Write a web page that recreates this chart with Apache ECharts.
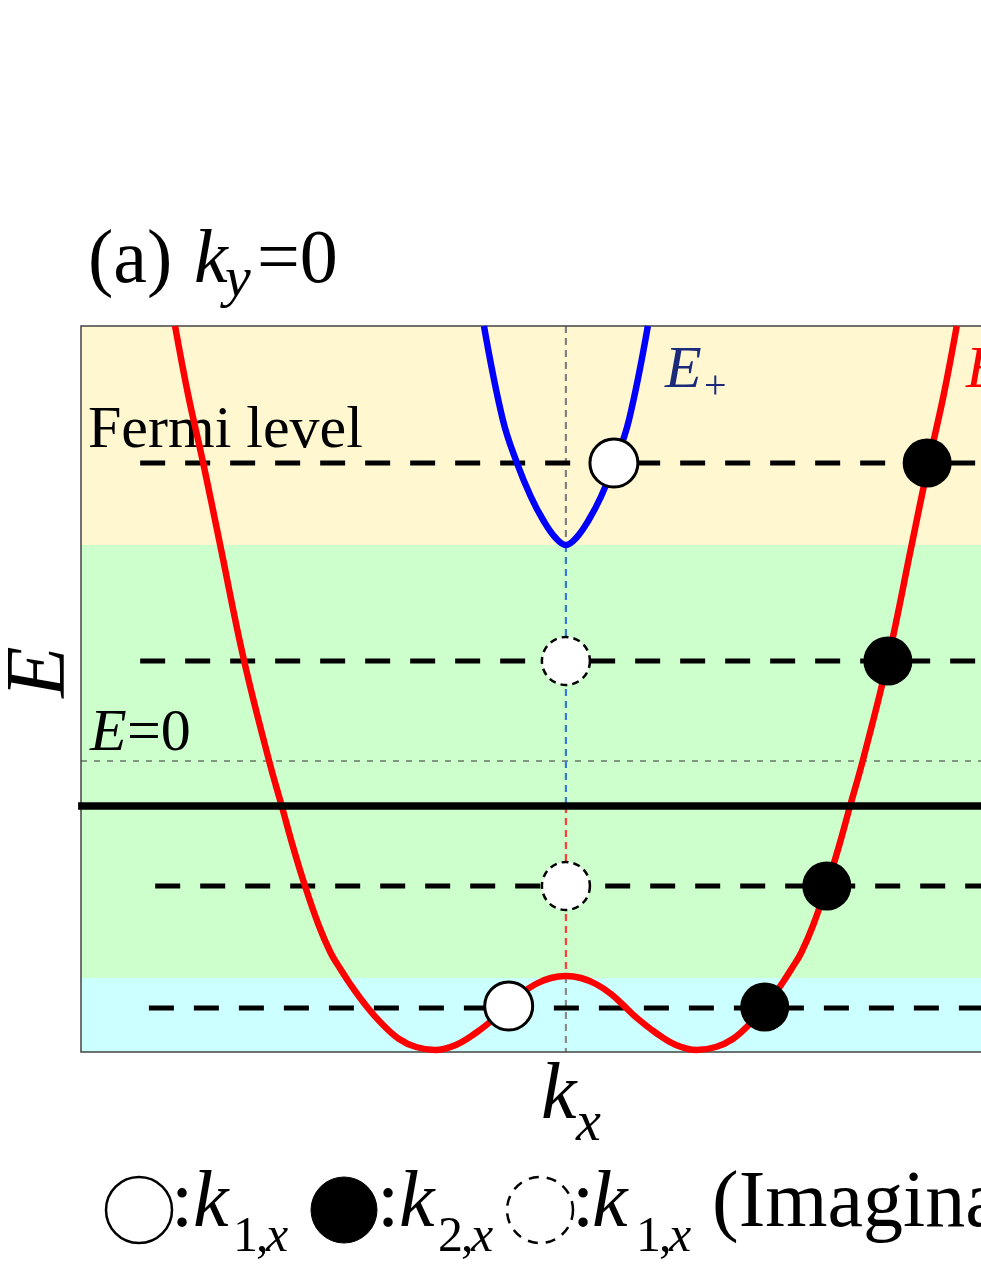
<!DOCTYPE html>
<html><head><meta charset="utf-8">
<script src="https://cdn.jsdelivr.net/npm/echarts@6/dist/echarts.min.js"></script>
<style>html,body{margin:0;padding:0;background:#fff;}#c{width:981px;height:1269px;}</style>
</head><body><div id="c"></div>
<script>
// ---- axis ranges (arbitrary units); the panel is cut at the right edge ----
const kMin = -1, kMax = 0.856;
const eMin = -2.91, eMax = 4.35;

// ---- E- (red) branch ----
const redK = [-0.806,-0.779,-0.748,-0.713,-0.664,-0.612,-0.586,-0.562,-0.538,-0.510,-0.485,-0.465,-0.445,-0.410,-0.381,-0.344,-0.309,-0.270,-0.227,-0.186,-0.144,-0.118,-0.093,-0.062,-0.031,0,
              0.031,0.062,0.093,0.118,0.144,0.186,0.227,0.270,0.309,0.344,0.381,0.410,0.445,0.465,0.485,0.510,0.538,0.562,0.586,0.612,0.664,0.713,0.748,0.779,0.806];
const redE = [4.35,3.66,2.98,2.16,1.01,0.00,-0.45,-0.87,-1.25,-1.64,-1.92,-2.08,-2.23,-2.46,-2.62,-2.78,-2.86,-2.89,-2.84,-2.72,-2.56,-2.44,-2.33,-2.23,-2.17,-2.15,
              -2.17,-2.23,-2.33,-2.44,-2.56,-2.72,-2.84,-2.89,-2.86,-2.78,-2.62,-2.46,-2.23,-2.08,-1.92,-1.64,-1.25,-0.87,-0.45,0.00,1.01,2.16,2.98,3.66,4.35];

// ---- E+ (blue) branch ----
const blueK = [-0.169,-0.130,-0.101,-0.072,-0.047,-0.021,0,0.021,0.047,0.072,0.101,0.130,0.169];
const blueE = [4.35,3.41,2.98,2.64,2.41,2.23,2.16,2.23,2.41,2.64,2.98,3.41,4.35];

// ---- intersection markers ----
const k1Real = [[0.099, 2.98], [-0.118, -2.45]];
const k2Real = [[0.745, 2.98], [0.664, 1.00], [0.538, -1.25], [0.410, -2.46]];
const k1Imag = [[0, 1.00], [0, -1.25]];

// ---- Fermi levels (dashed) ----
const fermiE = [2.98, 1.00, -1.25, -2.47];
const fermiStartK = [-0.878, -0.878, -0.847, -0.860];

// ---- background bands ----
const bandEdges = [4.35, 2.16, -2.17, -2.91];
const bandColors = ['#FFF7CF', '#CCFFCC', '#CCFFFF'];

// ---- reference lines ----
const eZero = 0;
const thickLineE = -0.45;
const centerSegE = [4.35, 2.16, -0.45, -2.15, -2.91];
const centerSegColors = ['#808080', '#3a78d8', '#ff3b3b', '#8a8a8a'];

const FONT = "'Liberation Serif','Times New Roman',serif";

const chart = echarts.init(document.getElementById('c'), null, {renderer: 'canvas'});

const series = [];
series.push({
  type: 'line', data: [], z: 0, silent: true,
  markArea: {
    silent: true,
    data: bandColors.map((c, i) => [
      {yAxis: bandEdges[i + 1], itemStyle: {color: c, opacity: 1}},
      {yAxis: bandEdges[i]}
    ])
  }
});
series.push({type:'line', data:[[kMin,eZero],[kMax,eZero]], symbol:'none', z:2,
  lineStyle:{color:'#333', width:1.2, type:[6,7]}});
for (let i = 0; i < centerSegColors.length; i++) {
  series.push({type:'line', data:[[0,centerSegE[i]],[0,centerSegE[i+1]]], symbol:'none', z:2,
    lineStyle:{color:centerSegColors[i], width:2.2, type:[7,5]}});
}
fermiE.forEach((e, i) => {
  series.push({type:'line', data:[[fermiStartK[i], e],[kMax, e]], symbol:'none', z:3,
    lineStyle:{color:'#000', width:5, type:[25,20], cap:'butt'}});
});
series.push({type:'line', data: redK.map((k,i)=>[k, redE[i]]), symbol:'none', smooth:0.4,
  z:4, lineStyle:{color:'#ff0000', width:6.5}});
series.push({type:'line', data: blueK.map((k,i)=>[k, blueE[i]]), symbol:'none', smooth:0.4,
  z:4, lineStyle:{color:'#0000ff', width:6.5}});
series.push({type:'line', data:[[-1.006, thickLineE],[kMax, thickLineE]], symbol:'none', clip:false, z:5,
  lineStyle:{color:'#000', width:7.5}});
series.push({type:'scatter', data:k1Imag, symbol:'circle', symbolSize:48, z:6,
  itemStyle:{color:'#fff', opacity:1, borderColor:'#000', borderWidth:2.5, borderType:[7,5]}});
series.push({type:'scatter', data:k1Real, symbol:'circle', symbolSize:48, z:6,
  itemStyle:{color:'#fff', opacity:1, borderColor:'#000', borderWidth:3}});
series.push({type:'scatter', data:k2Real, symbol:'circle', symbolSize:49, z:6,
  itemStyle:{color:'#000', opacity:1}});

function T(text, x, y, size, o) {
  o = o || {};
  return {type:'text', x:x, y:y, rotation:o.rot||0, z:o.z||10, silent:true,
    style:{text:text, fontFamily:FONT, fontSize:size, fontStyle:o.it?'italic':'normal',
      fill:o.color||'#000', textAlign:o.align||'left', textVerticalAlign:'middle',
      align:o.align||'left', verticalAlign:'middle'}};
}

const graphics = [
  {type:'rect', z:3, silent:true, shape:{x:81, y:326, width:1000, height:726},
   style:{fill:'none', stroke:'#444', lineWidth:1.5}},
  T('(a)', 88, 262, 76),
  T('k', 194, 262, 76, {it:true}),
  T('y', 225, 281, 58, {it:true}),
  T('=0', 257, 262, 76),
  T('Fermi level', 88, 431, 60, {z:3}),
  T('E', 665, 371, 60, {it:true, color:'#1c2a7c'}),
  T('+', 704, 387, 40, {color:'#1c2a7c'}),
  T('E', 966, 371, 60, {it:true, color:'#ff0000'}),
  T('\u2212', 1004, 387, 40, {color:'#ff0000'}),
  T('E', 90, 734, 60, {it:true, z:3}),
  T('=0', 127, 734, 60, {z:3}),
  T('E', 42, 672, 84, {it:true, rot:Math.PI/2, align:'center'}),
  T('k', 541, 1097, 80, {it:true}),
  T('x', 576, 1125, 56, {it:true}),
  {type:'circle', z:10, shape:{cx:139, cy:1210, r:33}, style:{fill:'#fff', stroke:'#000', lineWidth:2.5}},
  T(':', 171, 1205, 80),
  T('k', 193, 1205, 80, {it:true}),
  T('1', 233, 1238, 50),
  T(',', 256, 1238, 50),
  T('x', 266, 1238, 50, {it:true}),
  {type:'circle', z:10, shape:{cx:344, cy:1210, r:33}, style:{fill:'#000', stroke:'#000', lineWidth:1}},
  T(':', 377, 1205, 80),
  T('k', 399, 1205, 80, {it:true}),
  T('2', 438, 1238, 50),
  T(',', 461, 1238, 50),
  T('x', 471, 1238, 50, {it:true}),
  {type:'circle', z:10, shape:{cx:540, cy:1210, r:33}, style:{fill:'#fff', stroke:'#000', lineWidth:2.5, lineDash:[10,8]}},
  T(':', 572, 1205, 80),
  T('k', 592, 1205, 80, {it:true}),
  T('1', 636, 1238, 50),
  T(',', 659, 1238, 50),
  T('x', 669, 1238, 50, {it:true}),
  T('(Imaginary)', 712, 1205, 80)
];

chart.setOption({
  animation: false,
  backgroundColor: '#fff',
  grid: {left: 81, right: 0, top: 326, height: 726, show: false},
  xAxis: {type:'value', min:kMin, max:kMax, show:false},
  yAxis: {type:'value', min:eMin, max:eMax, show:false},
  series: series,
  graphic: graphics
});
</script>
</body></html>
